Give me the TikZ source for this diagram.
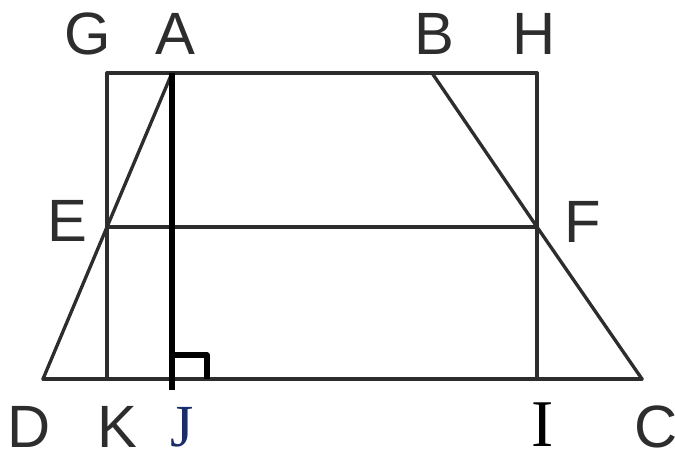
\documentclass[tikz,border=0pt]{standalone}
\usepackage{fontspec}
\setmainfont{Liberation Serif}
\newfontfamily\labelfont{Liberation Sans}
\usetikzlibrary{positioning}
\definecolor{edgegray}{RGB}{45,45,45}
\definecolor{jblue}{RGB}{25,45,105}

\begin{document}
\begin{tikzpicture}[x=0.02cm,y=-0.02cm,line cap=round,line join=round,
lbl/.style={font=\labelfont\fontsize{34}{40}\selectfont,text=edgegray,inner sep=0pt,anchor=base},
seriflbl/.style={font=\fontsize{34}{40}\selectfont,inner sep=0pt,anchor=base},
edge/.style={draw=edgegray,line width=1.9pt},
height/.style={draw=black,line width=3pt,line cap=butt}]
\useasboundingbox (0,0) rectangle (675,459);
% corners of the rectangle and the trapezoid
\coordinate (G) at (107,73);\coordinate (H) at (537,73);
\coordinate (A) at (172,73);\coordinate (B) at (432,73);
\coordinate (E) at (107,227);\coordinate (F) at (537,227);
\coordinate (D) at (43,379);\coordinate (C) at (642,379);
\coordinate (K) at (107,379);\coordinate (I) at (537,379);
\coordinate (J) at (172,379);\coordinate (Jx) at (172,390);
\coordinate (m1) at (172,355);\coordinate (m2) at (207,355);\coordinate (m3) at (207,379);
\draw[edge] (G)--(H);
\draw[edge] (D)--(C);
\draw[edge] (E)--(F);
\draw[edge] (G)--(K);
\draw[edge] (H)--(I);
\draw[edge] (D)--(E)--(A);
\draw[edge] (B)--(F)--(C);
\draw[height] (A)--(Jx);
\draw[height] (m1)--(m2)--(m3);
% labels
\node[lbl] (lG) at (88,55) {G};
\node[lbl] (lA) at (175,55) {A};
\node[lbl] (lB) at (434,55) {B};
\node[lbl] (lH) at (534,55) {H};
\node[lbl] (lE) at (67,241) {E};
\node[lbl] (lF) at (583,242) {F};
\node[lbl] (lD) at (29,447) {D};
\node[lbl] (lK) at (117,447) {K};
\node[seriflbl,text=jblue] (lJ) at (182,446) {J};
\node[seriflbl,font=\fontsize{38}{44}\selectfont] (lI) at (543,446) {I};
\node[lbl] (lC) at (656,447) {C};
\end{tikzpicture}
\end{document}
